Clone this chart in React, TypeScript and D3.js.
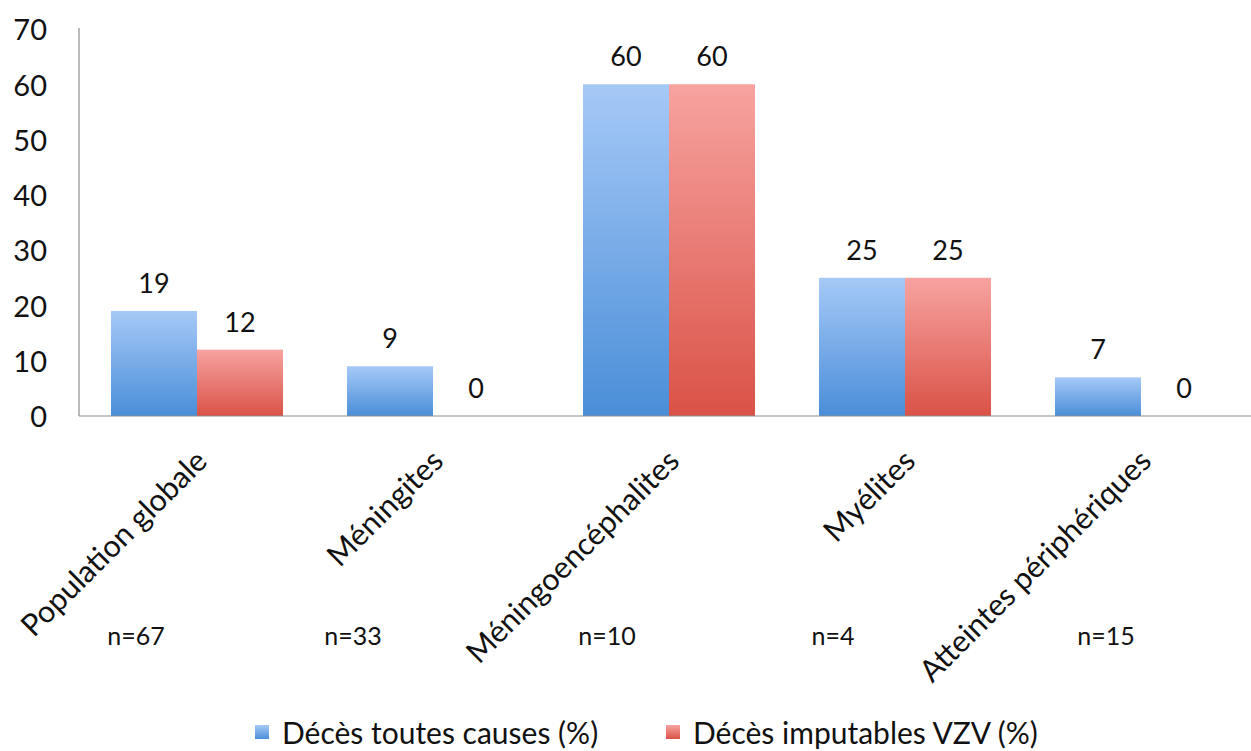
import * as d3 from "d3"
import { useEffect, useRef } from "react"

const categories = [
  "Population globale",
  "Méningites",
  "Méningoencéphalites",
  "Myélites",
  "Atteintes périphériques",
]
const sampleSizes = ["n=67", "n=33", "n=10", "n=4", "n=15"]
const seriesNames = ["Décès toutes causes (%)", "Décès imputables VZV (%)"]
const allCauses = [19, 9, 60, 25, 7]
const vzvCauses = [12, 0, 60, 25, 0]
const yTicks = [0, 10, 20, 30, 40, 50, 60, 70]

const W = 1251
const H = 751
const FONT = "Lato, 'Open Sans', sans-serif"
// the n= text boxes sit a bit left of each category centre (hand placed in the original)
const nShift = [-61, -80, -62, -72, -35]

export default function App() {
  const svgRef = useRef<SVGSVGElement>(null)

  useEffect(() => {
    if (!svgRef.current) return
    d3.select(svgRef.current).selectAll("*").remove()

    const svg = d3.select(svgRef.current)
    const left = 79
    const top = 29
    const bottom = 416

    const data = categories.map((c, i) => ({ cat: c, vals: [allCauses[i], vzvCauses[i]] }))

    // band step 236 px, bars 86 px wide each
    const x = d3
      .scaleBand()
      .domain(categories)
      .range([left, left + 236 * 5])
      .paddingInner(0.271)
      .paddingOuter(0.1355)

    const xs = d3.scaleBand().domain(seriesNames).range([0, x.bandwidth()]).padding(0)

    const y = d3.scaleLinear().domain([0, 70]).range([bottom, top])

    // gradients
    const defs = svg.append("defs")
    const grads = [
      { id: "gBlue", top: "#a6c9f7", bottom: "#4a8ed8" },
      { id: "gRed", top: "#f7a3a0", bottom: "#da5247" },
    ]
    grads.forEach((g) => {
      const lg = defs
        .append("linearGradient")
        .attr("id", g.id)
        .attr("x1", 0)
        .attr("y1", 0)
        .attr("x2", 0)
        .attr("y2", 1)
      lg.append("stop").attr("offset", "0%").attr("stop-color", g.top)
      lg.append("stop").attr("offset", "100%").attr("stop-color", g.bottom)
    })
    const fills = ["url(#gBlue)", "url(#gRed)"]

    // y axis labels
    svg
      .append("g")
      .selectAll("text")
      .data(yTicks)
      .join("text")
      .attr("x", 47)
      .attr("y", (d) => y(d) + 4)
      .attr("text-anchor", "end")
      .attr("dominant-baseline", "middle")
      .style("font-family", FONT)
      .style("font-size", "29px")
      .attr("fill", "#111")
      .text((d) => d)

    // bars
    const groups = svg
      .append("g")
      .selectAll("g")
      .data(data)
      .join("g")
      .attr("transform", (d) => `translate(${x(d.cat)},0)`)

    groups
      .selectAll("rect")
      .data((d) => d.vals.map((v, i) => ({ v, i })))
      .join("rect")
      .attr("x", (d) => xs(seriesNames[d.i])!)
      .attr("width", xs.bandwidth())
      .attr("y", (d) => y(d.v))
      .attr("height", (d) => bottom - y(d.v))
      .attr("fill", (d) => fills[d.i])

    groups
      .selectAll("text")
      .data((d) => d.vals.map((v, i) => ({ v, i })))
      .join("text")
      .attr("x", (d) => xs(seriesNames[d.i])! + xs.bandwidth() / 2)
      .attr("y", (d) => y(d.v) - 18)
      .attr("text-anchor", "middle")
      .style("font-family", FONT)
      .style("font-size", "27px")
      .attr("fill", "#111")
      .text((d) => d.v)

    // axes lines
    svg
      .append("line")
      .attr("x1", left)
      .attr("x2", left)
      .attr("y1", top - 1)
      .attr("y2", bottom)
      .attr("stroke", "#8c8c8c")
      .attr("stroke-width", 1.2)
    svg
      .append("line")
      .attr("x1", left)
      .attr("x2", W)
      .attr("y1", bottom)
      .attr("y2", bottom)
      .attr("stroke", "#8c8c8c")
      .attr("stroke-width", 1.2)

    // category labels (rotated)
    svg
      .append("g")
      .selectAll("text")
      .data(categories)
      .join("text")
      .attr("transform", (d) => `translate(${x(d)! + x.bandwidth() / 2 + 12},${463}) rotate(-45)`)
      .attr("text-anchor", "end")
      .style("font-family", FONT)
      .style("font-size", "30.5px")
      .attr("fill", "#111")
      .text((d) => d)

    // sample size labels
    svg
      .append("g")
      .selectAll("text")
      .data(categories)
      .join("text")
      .attr("x", (d, i) => x(d)! + x.bandwidth() / 2 + nShift[i])
      .attr("y", 645)
      .attr("text-anchor", "middle")
      .style("font-family", FONT)
      .style("font-size", "25px")
      .attr("fill", "#111")
      .text((d, i) => sampleSizes[i])

    // legend
    const legend = svg.append("g").attr("transform", `translate(0,744)`)
    const lx = [255, 666]
    seriesNames.forEach((name, i) => {
      const g = legend.append("g").attr("transform", `translate(${lx[i]},0)`)
      g.append("rect")
        .attr("x", 0)
        .attr("y", -19)
        .attr("width", 14)
        .attr("height", 14)
        .attr("fill", fills[i])
      g.append("text")
        .attr("x", 27)
        .attr("y", 0)
        .style("font-family", FONT)
        .style("font-size", "30px")
        .attr("fill", "#111")
        .text(name)
    })
  }, [])

  return (
    <svg
      ref={svgRef}
      width={W}
      height={H}
      style={{ position: "absolute", left: 0, top: 0, background: "#fff" }}
    />
  )
}
